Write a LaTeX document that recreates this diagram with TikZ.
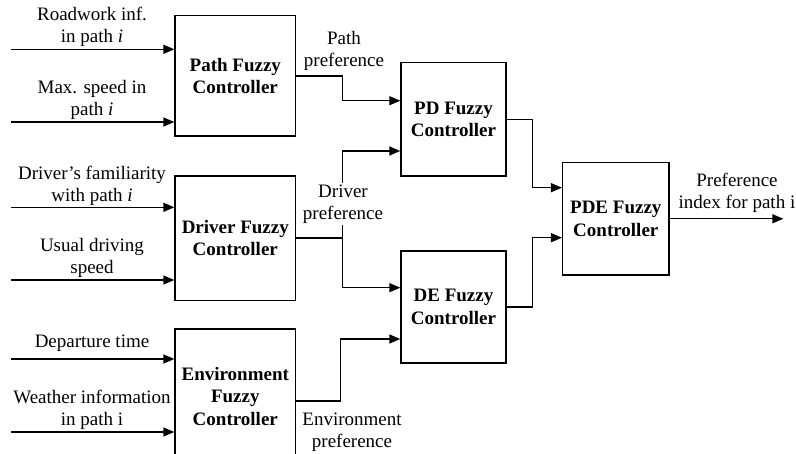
\documentclass[tikz,border=0pt]{standalone}
\usepackage{fontspec}
\setmainfont{Liberation Serif}
\usetikzlibrary{arrows.meta}
\begin{document}
\begin{tikzpicture}[x=1pt,y=-1pt,
  box/.style={draw, line width=1.4pt, font=\fontsize{19}{22.5}\selectfont\bfseries, align=center, inner sep=0pt},
  lbl/.style={font=\fontsize{19}{22.5}\selectfont, align=center, inner sep=1pt},
  wire/.style={line width=1.4pt},
  arr/.style={wire, -{Triangle[length=11pt,width=9pt]}}]
\useasboundingbox (0,0) rectangle (796,454);
\clip (0,0) rectangle (796,454);

% controllers
\node[box, minimum width=120.5pt, minimum height=120.3pt] (path) at (235.3,75.9) {Path Fuzzy\\Controller};
\node[box, minimum width=120.5pt, minimum height=124.5pt] (driver) at (235.3,238.2) {Driver Fuzzy\\Controller};
\node[box, minimum width=120.5pt, minimum height=135pt] (env) at (235.3,396.5) {Environment\\Fuzzy\\Controller};
\node[box, minimum width=105pt, minimum height=113.3pt] (pd) at (453.5,119.3) {PD Fuzzy\\Controller};
\node[box, minimum width=105pt, minimum height=112pt] (de) at (453.5,307) {DE Fuzzy\\Controller};
\node[box, minimum width=106.3pt, minimum height=112.3pt] (pde) at (615.8,218.8) {PDE Fuzzy\\Controller};

% input labels
\node[lbl] (l1) at (92,27) {Roadwork inf.\\in path \textit{i}};
\node[lbl] (l2) at (92,100) {Max. speed in\\path \textit{i}};
\node[lbl] (l3) at (92,186) {Driver’s familiarity\\with path \textit{i}};
\node[lbl] (l4) at (92,258) {Usual driving\\speed};
\node[lbl] (l5) at (92,343) {Departure time};
\node[lbl] (l6) at (92,410) {Weather information\\in path i};

% input arrows
\coordinate (s1) at (11,49.3);
\coordinate (s2) at (11,122);
\coordinate (s3) at (11,207.3);
\coordinate (s4) at (11,280);
\coordinate (s5) at (11,359);
\coordinate (s6) at (11,432);
\draw[arr] (s1) -- (s1 -| path.west);
\draw[arr] (s2) -- (s2 -| path.west);
\draw[arr] (s3) -- (s3 -| driver.west);
\draw[arr] (s4) -- (s4 -| driver.west);
\draw[arr] (s5) -- (s5 -| env.west);
\draw[arr] (s6) -- (s6 -| env.west);

% entry points on the second and third stages
\path (pd.west) ++(0,-18.6) coordinate (pd1) ++(0,50.3) coordinate (pd2);
\path (de.west) ++(0,-19.3) coordinate (de1) ++(0,51.3) coordinate (de2);
\path (pde.west) ++(0,-31.1) coordinate (pde1) ++(0,50) coordinate (pde2);
\path (env.east) ++(0,4.5) coordinate (eo);

% stage connectors
\draw[arr] (path.east) -- ++(46.2,0) |- (pd1);
\draw[wire] (driver.east) -- ++(46.2,0) coordinate (dj);
\draw[arr] (dj) |- (pd2);
\draw[arr] (dj) |- (de1);
\draw[arr] (eo) -- ++(44.5,0) |- (de2);
\draw[arr] (pd.east) -- ++(25.7,0) |- (pde1);
\draw[arr] (de.east) -- ++(25.7,0) |- (pde2);
\draw[arr] (pde.east) -- ++(113.7,0) coordinate (out);

% connector labels
\node[lbl] (lp) at (344,51) {Path\\preference};
\node[lbl, fill=white] (ld) at (343,204) {Driver\\preference};
\node[lbl] (le) at (352,432) {Environment\\preference};
\node[lbl] (lo) at (737,193) {Preference\\index for path i};
\end{tikzpicture}
\end{document}
